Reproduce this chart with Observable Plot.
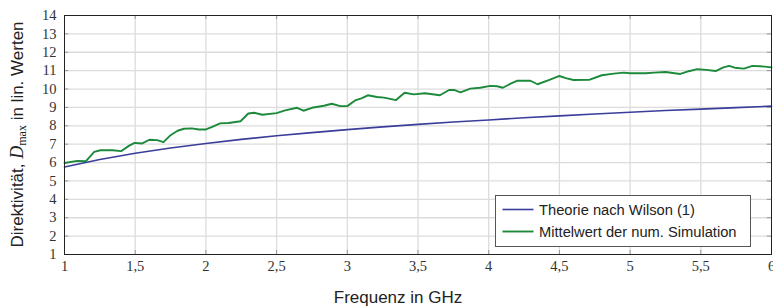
<!DOCTYPE html>
<html>
<head>
<meta charset="utf-8">
<script src="https://cdn.jsdelivr.net/npm/d3@7"></script>
<script src="https://cdn.jsdelivr.net/npm/@observablehq/plot@0.6"></script>
<style>
  html, body { margin: 0; padding: 0; background: #fff; }
  #chart svg { display: block; }
</style>
</head>
<body>
<div id="chart"></div>
<script>
// ---- Data ----
const seriesNames = ["Theorie nach Wilson (1)", "Mittelwert der num. Simulation"];
const seriesColors = ["#3b3d9b", "#1c8a3b"];

const freqTheory = [1, 1.25, 1.5, 1.75, 2, 2.25, 2.5, 2.75, 3, 3.25, 3.5, 3.75, 4, 4.25, 4.5, 4.75, 5, 5.25, 5.5, 5.75, 6];
const dTheory    = [5.76, 6.17, 6.51, 6.79, 7.04, 7.26, 7.46, 7.63, 7.79, 7.94, 8.08, 8.21, 8.32, 8.44, 8.54, 8.64, 8.74, 8.83, 8.91, 8.99, 9.07];

const freqSim = [1.00, 1.09, 1.15, 1.21, 1.255, 1.34, 1.40, 1.455, 1.495, 1.55, 1.60, 1.655, 1.70, 1.75, 1.80, 1.845, 1.90, 1.95, 2.00, 2.045,
                 2.10, 2.16, 2.245, 2.30, 2.34, 2.40, 2.50, 2.56, 2.645, 2.69, 2.75, 2.835, 2.89, 2.95, 3.00, 3.06, 3.10, 3.145, 3.21, 3.26,
                 3.345, 3.405, 3.47, 3.55, 3.655, 3.72, 3.755, 3.80, 3.87, 3.94, 4.01, 4.06, 4.10, 4.155, 4.20, 4.295, 4.345, 4.425, 4.50, 4.545,
                 4.60, 4.71, 4.80, 4.885, 4.955, 5.00, 5.11, 5.17, 5.25, 5.355, 5.415, 5.475, 5.54, 5.605, 5.66, 5.70, 5.74, 5.805, 5.865, 5.92, 6.00];
const dSim    = [5.98, 6.09, 6.07, 6.58, 6.67, 6.67, 6.62, 6.91, 7.07, 7.04, 7.24, 7.22, 7.11, 7.49, 7.73, 7.84, 7.86, 7.80, 7.80, 7.94,
                 8.13, 8.15, 8.25, 8.67, 8.71, 8.60, 8.69, 8.84, 8.98, 8.82, 8.98, 9.09, 9.20, 9.07, 9.07, 9.40, 9.49, 9.66, 9.57, 9.53,
                 9.40, 9.80, 9.71, 9.77, 9.66, 9.95, 9.95, 9.82, 10.02, 10.07, 10.17, 10.15, 10.07, 10.29, 10.45, 10.45, 10.26, 10.49, 10.71, 10.59,
                 10.49, 10.50, 10.75, 10.84, 10.89, 10.86, 10.86, 10.89, 10.93, 10.82, 10.97, 11.08, 11.04, 10.98, 11.18, 11.26, 11.16, 11.11, 11.26, 11.24, 11.18];

const xTicks = [1, 1.5, 2, 2.5, 3, 3.5, 4, 4.5, 5, 5.5, 6];
const yTicks = [1, 2, 3, 4, 5, 6, 7, 8, 9, 10, 11, 12, 13, 14];

const theory = freqTheory.map((f, i) => ({f, d: dTheory[i]}));
const sim = freqSim.map((f, i) => ({f, d: dSim[i]}));

const W = 773, H = 307;
const mL = 64, mR = 2, mT = 15, mB = 53;
const serif = "'Liberation Serif', 'DejaVu Serif', serif";
const sans = "'Liberation Sans', Arial, sans-serif";

const chart = Plot.plot({
  width: W, height: H,
  marginLeft: mL, marginRight: mR, marginTop: mT, marginBottom: mB,
  style: {fontFamily: serif, fontSize: "14px", background: "#fff", overflow: "visible"},
  x: {domain: [1, 6]},
  y: {domain: [1, 14]},
  marks: [
    Plot.ruleX(xTicks.slice(1, -1), {stroke: "#dcdcdc", strokeWidth: 1.3}),
    Plot.ruleY(yTicks.slice(1, -1), {stroke: "#dcdcdc", strokeWidth: 1.3}),
    // small inward ticks
    Plot.ruleY(yTicks, {x1: 1, x2: 1.03, stroke: "#999", strokeWidth: 1}),
    Plot.ruleY(yTicks, {x1: 5.97, x2: 6, stroke: "#999", strokeWidth: 1}),
    Plot.ruleX(xTicks, {y1: 1, y2: 1.22, stroke: "#999", strokeWidth: 1}),
    Plot.ruleX(xTicks, {y1: 13.78, y2: 14, stroke: "#999", strokeWidth: 1}),
    Plot.axisY(yTicks, {tickSize: 0, tickPadding: 8, label: null, fontSize: 14.5, fill: "#333"}),
    Plot.axisX(xTicks, {tickSize: 0, tickPadding: 6, label: null, fontSize: 14.5, fill: "#333",
      tickFormat: d => String(d).replace(".", ",")}),
    Plot.line(theory, {x: "f", y: "d", stroke: seriesColors[0], strokeWidth: 1.6}),
    Plot.line(sim, {x: "f", y: "d", stroke: seriesColors[1], strokeWidth: 1.9}),
    Plot.frame({stroke: "#222", strokeWidth: 1})
  ]
});

document.getElementById("chart").appendChild(chart);

const svg = d3.select(chart);

// x-axis label
svg.append("text")
  .attr("x", 398).attr("y", 303)
  .attr("text-anchor", "middle")
  .attr("font-family", sans).attr("font-size", 17).attr("fill", "#222")
  .text("Frequenz in GHz");

// y-axis label
const yl = svg.append("text")
  .attr("transform", `translate(23,${(mT + (H - mB)) / 2}) rotate(-90)`)
  .attr("text-anchor", "middle")
  .attr("font-family", sans).attr("font-size", 17).attr("fill", "#222");
yl.append("tspan").text("Direktivität, ");
yl.append("tspan").attr("font-family", serif).attr("font-style", "italic").attr("font-size", 18).text("D");
yl.append("tspan").attr("font-family", serif).attr("font-size", 12).attr("dy", 3).text("max");
yl.append("tspan").attr("dy", -3).text(" in lin. Werten");

// legend
const lg = svg.append("g");
lg.append("rect").attr("x", 495.5).attr("y", 195.5).attr("width", 255).attr("height", 51)
  .attr("fill", "#fff").attr("stroke", "#555").attr("stroke-width", 1);
seriesNames.forEach((name, i) => {
  const y = 209.5 + i * 22;
  lg.append("line").attr("x1", 502.5).attr("x2", 533.5).attr("y1", y).attr("y2", y)
    .attr("stroke", seriesColors[i]).attr("stroke-width", i === 0 ? 1.6 : 1.9);
  lg.append("text").attr("x", 539).attr("y", y).attr("dy", "0.35em")
    .attr("text-anchor", "start")
    .attr("font-family", sans).attr("font-size", 14.7).attr("fill", "#222").text(name);
});
</script>
</body>
</html>
